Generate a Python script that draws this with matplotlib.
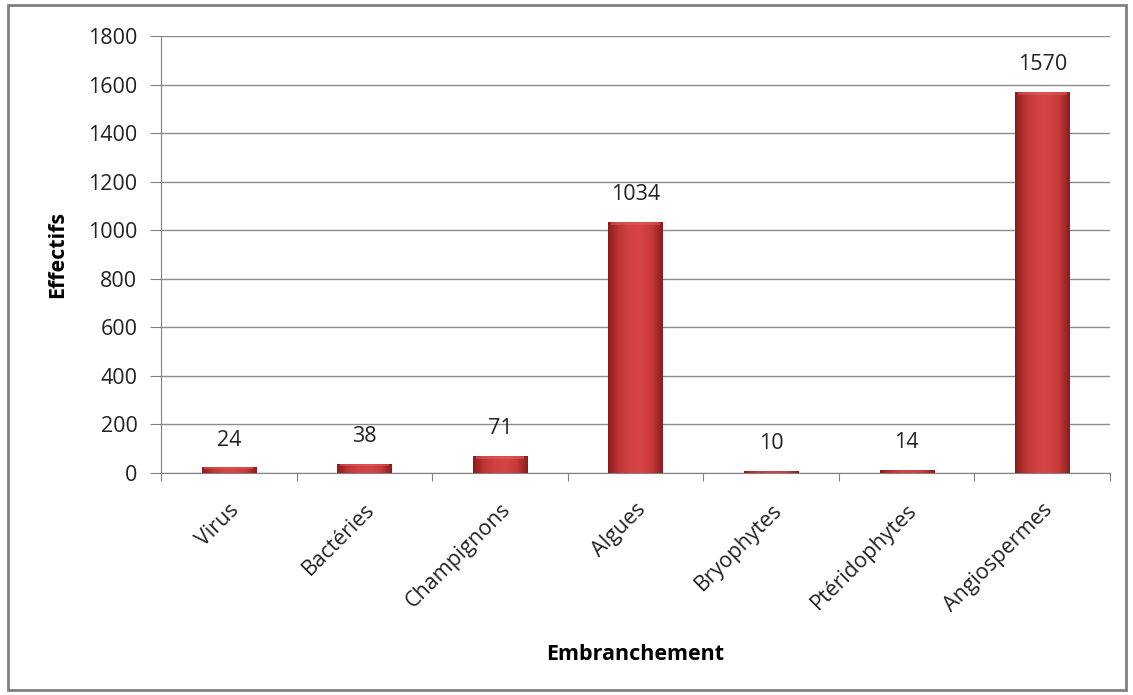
import numpy as np
import matplotlib
matplotlib.use('Agg')
import matplotlib.pyplot as plt
from matplotlib.patches import Rectangle
from matplotlib.colors import LinearSegmentedColormap
from matplotlib.ticker import MultipleLocator

plt.rcParams['font.family'] = ['Open Sans', 'DejaVu Sans']

categories = ['Virus', 'Bactéries', 'Champignons', 'Algues', 'Bryophytes', 'Ptéridophytes', 'Angiospermes']
effectifs = [24, 38, 71, 1034, 10, 14, 1570]

fs = 15.5
fig = plt.figure(figsize=(11.33, 6.95), dpi=100)
ax = fig.add_axes([161/1133, 1-473/695, (1110-161)/1133, (473-36)/695])

x = np.arange(len(categories))
bars = ax.bar(x, effectifs, width=0.4, color='#c83c3c', edgecolor='none', zorder=3)

# shading like the excel bars: dark edges, lighter middle
cmap = LinearSegmentedColormap.from_list('rouge', ['#8a1c1c', '#bf3535', '#d24242', '#d44444', '#c73a3a', '#8a1c1c'])
grad = np.linspace(0, 1, 256).reshape(1, -1)
for b in bars:
    x0, w, h = b.get_x(), b.get_width(), b.get_height()
    im = ax.imshow(grad, extent=[x0, x0 + w, 0, h], aspect='auto', cmap=cmap, zorder=4)
    im.set_clip_path(b)
    cap = min(h * 0.25, 12)
    ax.add_patch(Rectangle((x0 + w * 0.05, h - cap), w * 0.9, cap, color='#e06060', alpha=0.5, lw=0, zorder=5))
    ax.annotate(str(h), (x0 + w / 2, h), xytext=(0, 12), textcoords='offset points',
                ha='center', va='bottom', fontsize=fs, color='#222222', zorder=6)

ax.set_xlim(-0.5, len(categories) - 0.5)
ax.set_ylim(0, 1800)
ax.yaxis.set_major_locator(MultipleLocator(200))
ax.grid(axis='y', color='#8c8c8c', linewidth=1, zorder=0)
ax.set_axisbelow(True)
for s in ['top', 'right']:
    ax.spines[s].set_visible(False)
ax.spines['left'].set_color('#808080')
ax.spines['bottom'].set_color('#808080')

ax.set_xticks(np.arange(len(categories) + 1) - 0.5, minor=False)
ax.set_xticklabels([])
ax.set_xticks(x, minor=True)
ax.set_xticklabels(categories, minor=True, rotation=45, ha='right', rotation_mode='anchor', fontsize=fs, color='#222222')
ax.tick_params(axis='x', which='minor', length=0, pad=19)
ax.tick_params(axis='x', which='major', length=6, color='#808080', direction='out')
ax.tick_params(axis='y', length=8, color='#808080', labelsize=fs, pad=9, labelcolor='#222222')

ax.set_ylabel('Effectifs', fontsize=fs, fontweight='bold', labelpad=14)
ax.set_xlabel('Embranchement', fontsize=fs, fontweight='bold', labelpad=20)

fig.patches.append(Rectangle((8/1133, 1-690/695), (1126-8)/1133, (690-5)/695, transform=fig.transFigure,
                             fill=False, edgecolor='#808080', linewidth=2))

fig.savefig('out.png', dpi=100)
